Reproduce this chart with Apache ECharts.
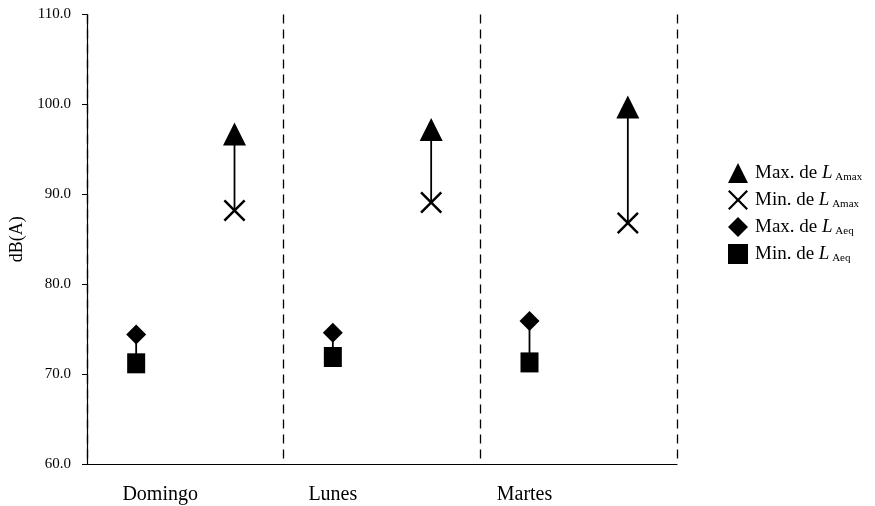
<!DOCTYPE html>
<html>
<head>
<meta charset="utf-8">
<script src="https://cdn.jsdelivr.net/npm/echarts@6/dist/echarts.min.js"></script>
<style>
html,body{margin:0;padding:0;background:#fff;}
#chart{width:875px;height:506px;}
</style>
</head>
<body>
<div id="chart"></div>
<script>
// ---- data ----
const days = ['Domingo', 'Lunes', 'Martes'];
const maxLAmax = [96.7, 97.2, 99.7];
const minLAmax = [88.2, 89.1, 86.8];
const maxLAeq = [74.4, 74.6, 75.9];
const minLAeq = [71.2, 71.9, 71.3];
const yTicks = [60, 70, 80, 90, 100, 110];
const seriesNames = ['Max. de L_Amax', 'Min. de L_Amax', 'Max. de L_Aeq', 'Min. de L_Aeq'];

// ---- build ----
const FONT = "'Liberation Serif','Times New Roman',serif";
const slots = days.flatMap(d => [d, d + ' ']);          // two slots per day: L_Aeq, L_Amax
const aeqPts = arr => arr.map((v, i) => [2 * i, v]);
const amaxPts = arr => arr.map((v, i) => [2 * i + 1, v]);
const rangeData = days.flatMap((d, i) => [[2 * i, maxLAeq[i], minLAeq[i]], [2 * i + 1, maxLAmax[i], minLAmax[i]]]);
const crossPath = 'path://M0,8 L8,0 L50,42 L92,0 L100,8 L58,50 L100,92 L92,100 L50,58 L8,100 L0,92 L42,50 Z';
// label offsets as in the original layout (style only)
const labelPad = {Domingo: [0, 0, 0, 48], Lunes: [0, 0, 0, 0], Martes: [0, 10, 0, 0]};

function legendLabel(name) {
  const parts = name.split(' L_');
  return parts[0] + ' {i|L}{sub| ' + parts[1] + '}';
}

const catRich = {};
days.forEach((d, i) => {
  catRich['c' + i] = {fontFamily: FONT, fontSize: 20, color: '#000', padding: labelPad[d]};
});

const chart = echarts.init(document.getElementById('chart'), null, {renderer: 'canvas'});
chart.setOption({
  backgroundColor: '#fff',
  animation: false,
  textStyle: {fontFamily: FONT, color: '#000'},
  grid: {left: 87, right: 198, top: 14.5, bottom: 42, containLabel: false},
  legend: {
    orient: 'vertical',
    left: 723,
    top: 158,
    itemWidth: 20,
    itemHeight: 20,
    itemGap: 7,
    data: seriesNames,
    formatter: legendLabel,
    textStyle: {
      fontFamily: FONT, fontSize: 19, color: '#000', lineHeight: 20, padding: [0, 0, 0, 2],
      rich: {
        i: {fontFamily: FONT, fontStyle: 'italic', fontSize: 19, color: '#000', lineHeight: 20},
        sub: {fontFamily: FONT, fontSize: 11, color: '#000', lineHeight: 20, verticalAlign: 'bottom', padding: [9, 0, 0, 0]}
      }
    }
  },
  xAxis: [{
    type: 'category',
    data: slots,
    boundaryGap: true,
    axisLine: {lineStyle: {color: '#000', width: 1.2}},
    axisTick: {show: false},
    axisLabel: {interval: 1, fontFamily: FONT, fontSize: 20, color: '#000', margin: 21,
      rich: catRich,
      formatter: v => {
        const i = days.indexOf(v.trim());
        return i >= 0 ? '{c' + i + '|' + days[i] + '}' : '';
      }},
    splitLine: {show: false}
  }, {
    type: 'value',
    min: 0, max: 6, interval: 2,
    position: 'bottom',
    axisLine: {show: false},
    axisTick: {show: false},
    axisLabel: {show: false},
    splitLine: {show: true, lineStyle: {color: '#000', type: [9, 6], width: 1.3}}
  }],
  yAxis: {
    type: 'value',
    min: yTicks[0],
    max: yTicks[yTicks.length - 1],
    interval: 10,
    name: 'dB(A)',
    nameLocation: 'middle',
    nameGap: 50,
    nameTextStyle: {fontFamily: FONT, fontSize: 18, color: '#000'},
    axisLine: {show: true, lineStyle: {color: '#000', width: 1.2}},
    axisTick: {show: true, length: 5, lineStyle: {color: '#000'}},
    axisLabel: {fontFamily: FONT, fontSize: 15, color: '#000', margin: 16, formatter: v => v.toFixed(1)},
    splitLine: {show: false}
  },
  series: [
    {
      type: 'custom',
      name: 'range',
      xAxisIndex: 0,
      data: rangeData,
      encode: {x: 0, y: [1, 2]},
      z: 1,
      renderItem: function (params, api) {
        const p1 = api.coord([api.value(0), api.value(1)]);
        const p2 = api.coord([api.value(0), api.value(2)]);
        return {type: 'line', shape: {x1: p1[0], y1: p1[1], x2: p2[0], y2: p2[1]},
          style: {stroke: '#000', lineWidth: 1.8}};
      }
    },
    {
      type: 'scatter', name: seriesNames[0], xAxisIndex: 0,
      data: amaxPts(maxLAmax), symbol: 'triangle', symbolSize: [23, 23],
      itemStyle: {color: '#000', opacity: 1}, z: 3
    },
    {
      type: 'scatter', name: seriesNames[1], xAxisIndex: 0,
      data: amaxPts(minLAmax), symbol: crossPath, symbolSize: [22, 22],
      itemStyle: {color: '#000', opacity: 1}, z: 3
    },
    {
      type: 'scatter', name: seriesNames[2], xAxisIndex: 0,
      data: aeqPts(maxLAeq), symbol: 'diamond', symbolSize: [20, 20],
      itemStyle: {color: '#000', opacity: 1}, z: 3
    },
    {
      type: 'scatter', name: seriesNames[3], xAxisIndex: 0,
      data: aeqPts(minLAeq), symbol: 'rect', symbolSize: [18, 20],
      itemStyle: {color: '#000', opacity: 1}, z: 3
    }
  ]
});
</script>
</body>
</html>
